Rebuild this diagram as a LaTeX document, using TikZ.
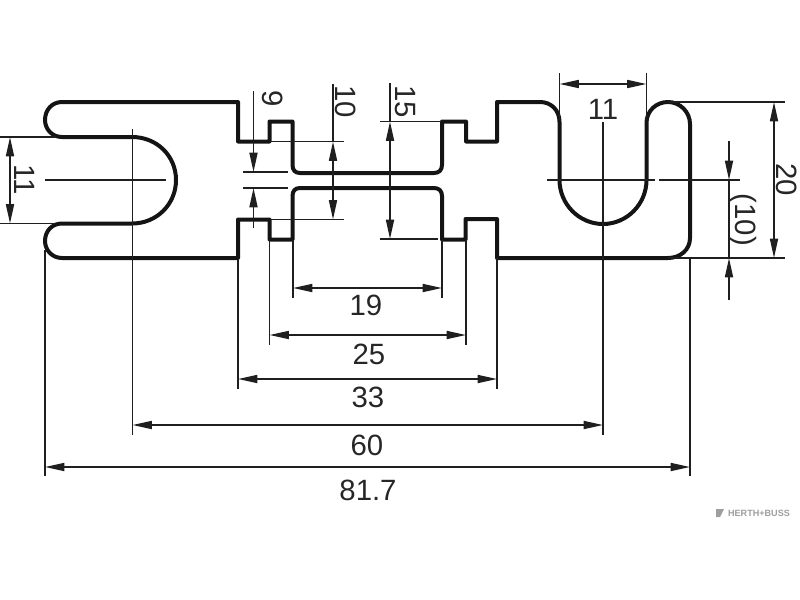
\documentclass[tikz,border=0pt]{standalone}
\usepackage{fontspec}
\setmainfont{Liberation Sans}
\usetikzlibrary{arrows.meta}
\tikzset{
  outline/.style={line width=3pt,line join=round,draw=black!92},
  thin line/.style={line width=1.25pt,draw=black!88},
  dim/.style={thin line,{Triangle[length=14.5pt,width=6pt]}-{Triangle[length=14.5pt,width=6pt]}},
  tiphead/.style={thin line,-{Triangle[length=14.5pt,width=6pt]}},
  lbl/.style={font=\fontsize{22}{22}\selectfont,text=black!85,inner sep=0pt},
  vlbl/.style={lbl,rotate=-90},
  mark text/.style={font=\fontsize{6.8}{7}\selectfont\bfseries,text=black!38,inner sep=0pt}
}
\begin{document}
\begin{tikzpicture}[x=0.75pt,y=-0.75pt]
\useasboundingbox (0,0) rectangle (800,600);
% part outline
\draw[outline]
 (60,102) -- (238,102) -- (238,141.5) -- (269.5,141.5) -- (269.5,121.5) -- (292.5,121.5)
 -- (292.5,165) .. controls (292.5,170) and (295,173) .. (300,173) -- (434,173)
 .. controls (439,173) and (442,170) .. (442,165) -- (442,121.5) -- (466,121.5) -- (466,141.5)
 -- (497,141.5) -- (497,102) -- (540,102)
 .. controls (551,102) and (559.5,110) .. (559.5,122) -- (559.5,180)
 .. controls (559.5,204) and (579,224) .. (603,224) .. controls (627,224) and (646.5,204) .. (646.5,180)
 -- (646.5,123) .. controls (646.5,111) and (656,102) .. (668,102)
 .. controls (680,102) and (690,112) .. (690,124) -- (690,238)
 .. controls (690,250) and (680,258) .. (668,258) -- (497,258) -- (497,219) -- (465.5,219)
 -- (465.5,239.5) -- (442,239.5) -- (442,196) .. controls (442,191) and (439,188) .. (434,188)
 -- (300,188) .. controls (295,188) and (292.5,191) .. (292.5,196) -- (292.5,239.5) -- (269.5,239.5)
 -- (269.5,219.5) -- (238,219.5) -- (238,258) -- (62,258)
 .. controls (52,258) and (45,250) .. (45,241) .. controls (45,231) and (52,223.5) .. (62,223.5)
 -- (132,223.5) .. controls (157,223.5) and (176,204) .. (176,180) .. controls (176,156) and (157,137) .. (132,137)
 -- (62,137) .. controls (52,137) and (45,129) .. (45,120) .. controls (45,110) and (52,102) .. (62,102) -- cycle;
% extension lines
\draw[thin line] (45,250)--(45,476) (132.5,129)--(132.5,435) (238,260)--(238,389)
 (269.5,240)--(269.5,345) (293,240)--(293,298) (442,240)--(442,298) (466,240)--(466,345)
 (497,258)--(497,389) (603,122)--(603,435) (690,258)--(690,476);
\draw[thin line] (0,137)--(55,137) (0,223.5)--(55,223.5) (45,180)--(166,180);
\draw[thin line] (243,172)--(288,172) (243,188)--(288,188);
\draw[thin line] (270,141.5)--(344,141.5) (270,219.5)--(344,219.5);
\draw[thin line] (380,121.5)--(442,121.5) (380,239)--(438,239);
\draw[thin line] (668,102)--(785,102) (668,258)--(785,258);
\draw[thin line] (547,180)--(655,180) (659,180)--(740,180);
\draw[thin line] (559.5,73)--(559.5,120) (646.5,73)--(646.5,120);
% dimension lines
\coordinate (d19a) at (293,288); \coordinate (d19b) at (442,288);
\coordinate (d25a) at (269.5,335); \coordinate (d25b) at (466,335);
\coordinate (d33a) at (238,379); \coordinate (d33b) at (497,379);
\coordinate (d60a) at (132.5,425); \coordinate (d60b) at (603,425);
\coordinate (d81a) at (45,467); \coordinate (d81b) at (690,467);
\draw[dim] (d19a)--(d19b);
\draw[dim] (d25a)--(d25b);
\draw[dim] (d33a)--(d33b);
\draw[dim] (d60a)--(d60b);
\draw[dim] (d81a)--(d81b);
\draw[dim] (10,137)--(10,223.5);
\draw[dim] (333,141.5)--(333,219.5);
\draw[dim] (390,121.5)--(390,239);
\draw[dim] (774,102)--(774,258);
\draw[dim] (559.5,84)--(646.5,84);
\draw[thin line] (333,84)--(333,141.5) (390,83)--(390,121.5);
\draw[tiphead] (253.5,91)--(253.5,172);
\draw[tiphead] (253.5,228)--(253.5,188);
\draw[tiphead] (729,141)--(729,180);
\draw[tiphead] (729,300)--(729,258);
\draw[thin line] (729,180)--(729,258);
% labels
\node[lbl] (t19) at (366,305) {19};
\node[lbl] (t25) at (369,354) {25};
\node[lbl] (t33) at (368,397) {33};
\node[lbl] (t60) at (367,445) {60};
\node[lbl] (t81) at (368,490) {81.7};
\node[lbl] (t11b) at (603,109) {11};
\node[vlbl] (t11a) at (25,180) {11};
\node[vlbl] (t10) at (346,102) {10};
\node[vlbl] (t15) at (405,102) {15};
\node[vlbl] (t20) at (787,180) {20};
\node[vlbl] (t10b) at (743,220) {(10)};
\node[vlbl] (t9) at (273,99) {9};
% maker mark
\fill[black!38] (716,509)--(724,509)--(720,517)--(716,517)--cycle;
\node[mark text] (maker) at (759,513) {HERTH+BUSS};
\end{tikzpicture}
\end{document}
